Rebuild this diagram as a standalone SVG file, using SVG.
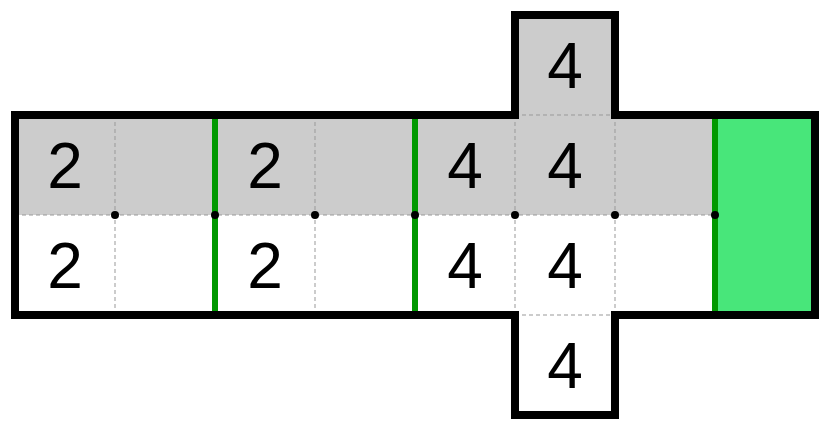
<svg xmlns="http://www.w3.org/2000/svg" width="830" height="430" viewBox="0 0 830 430">
<style>
.d{stroke:#999;stroke-width:1;stroke-dasharray:4,3;fill:none}
.g{stroke:#009900;stroke-width:6}
.t{font-family:"Liberation Sans",Arial,sans-serif;font-size:64px;text-anchor:middle;fill:#000}
</style>
<rect x="0" y="0" width="830" height="430" fill="#fff"/>
<g id="shading">
<rect x="515" y="15" width="100" height="100" fill="#cccccc"/>
<rect x="15" y="115" width="700" height="100" fill="#cccccc"/>
<rect x="715" y="115" width="100" height="200" fill="#48e67a"/>
</g>
<g id="connectors">
<path class="d" d="M115 115V315M315 115V315M515 115V415M615 115V315M15 215H715M515 115H615M515 315H615"/>
<path class="g" d="M215 115V315M415 115V315M715 115V315"/>
<g fill="#000">
<circle cx="115" cy="215" r="4"/><circle cx="215" cy="215" r="4"/><circle cx="315" cy="215" r="4"/><circle cx="415" cy="215" r="4"/><circle cx="515" cy="215" r="4"/><circle cx="615" cy="215" r="4"/><circle cx="715" cy="215" r="4"/>
</g>
</g>
<g id="outline">
<path d="M15 115H515V15H615V115H815V315H615V415H515V315H15Z" fill="none" stroke="#000" stroke-width="8"/>
</g>
<g id="labels">
<text class="t" x="565" y="88">4</text>
<text class="t" x="65" y="188">2</text>
<text class="t" x="265" y="188">2</text>
<text class="t" x="465" y="188">4</text>
<text class="t" x="565" y="188">4</text>
<text class="t" x="65" y="288">2</text>
<text class="t" x="265" y="288">2</text>
<text class="t" x="465" y="288">4</text>
<text class="t" x="565" y="288">4</text>
<text class="t" x="565" y="388">4</text>
</g>
</svg>
